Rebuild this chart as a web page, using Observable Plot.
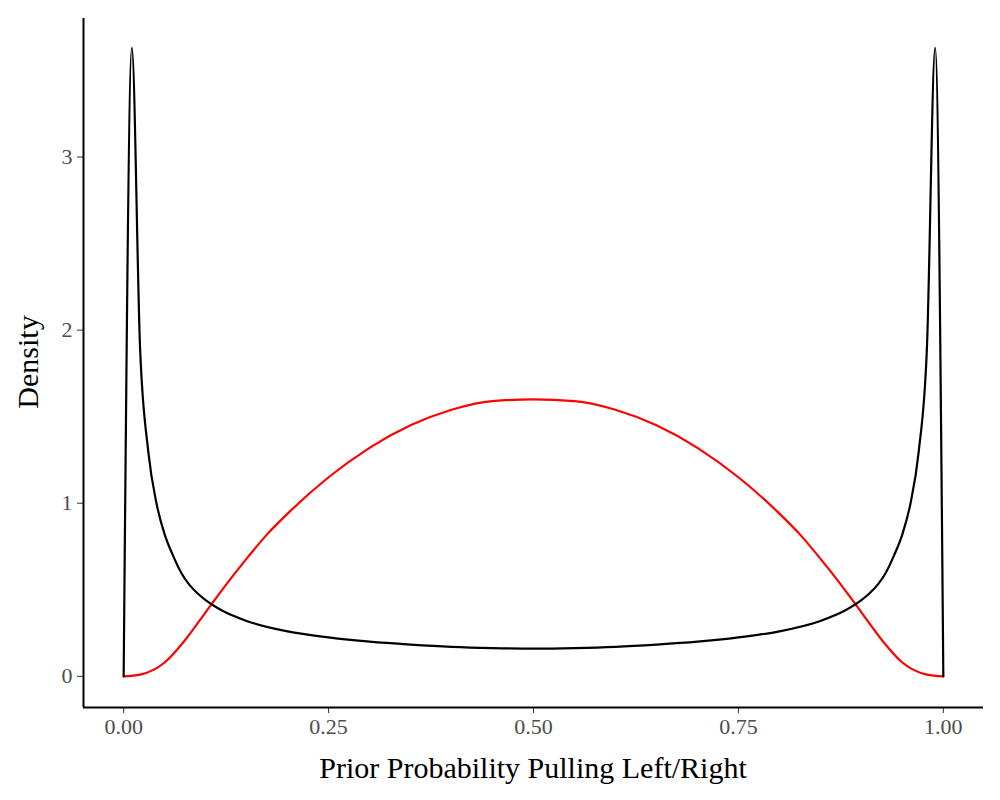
<!DOCTYPE html>
<html><head>
<script src="https://cdn.jsdelivr.net/npm/d3@7"></script>
<script src="https://cdn.jsdelivr.net/npm/@observablehq/plot@0.6"></script>
<style>body{margin:0;background:#fff}</style>
</head><body>
<div id="chart"></div>
<script>
// black curve
const blackX = [0,0.01,0.02,0.03,0.04,0.05,0.06,0.07,0.08,0.09,0.10,0.12,0.15,0.20,0.25,0.30,0.35,0.40,0.45,0.50,
  0.55,0.60,0.65,0.70,0.75,0.80,0.85,0.88,0.90,0.91,0.92,0.93,0.94,0.95,0.96,0.97,0.98,0.99,1.00]
const blackY = [0,3.63,1.9,1.3,1.0,0.82,0.7,0.6,0.53,0.48,0.44,0.38,0.32,0.26,0.225,0.2,0.183,0.17,0.163,0.16,
  0.163,0.17,0.183,0.2,0.225,0.26,0.32,0.38,0.44,0.48,0.53,0.6,0.7,0.82,1.0,1.3,1.9,3.63,0]
// red curve
const redX = [0,0.02,0.05,0.075,0.1,0.125,0.15,0.175,0.2,0.25,0.3,0.35,0.4,0.45,0.5,
  0.55,0.6,0.65,0.7,0.75,0.8,0.825,0.85,0.875,0.9,0.925,0.95,0.98,1]
const redY = [0,0.01,0.08,0.21,0.37,0.53,0.68,0.82,0.94,1.15,1.32,1.45,1.54,1.59,1.6,
  1.59,1.54,1.45,1.32,1.15,0.94,0.82,0.68,0.53,0.37,0.21,0.08,0.01,0]

const black = blackX.map((x,i)=>({x, y: blackY[i]}))
const red = redX.map((x,i)=>({x, y: redY[i]}))

const chart = Plot.plot({
  width: 1000, height: 800,
  marginLeft: 83, marginRight: 17, marginTop: 18, marginBottom: 93,
  style: {fontFamily: "Liberation Serif, serif", fontSize: "22px", color: "#4d4d4d", background: "#fff"},
  x: {domain: [-0.049, 1.049], label: null},
  y: {domain: [-0.18, 3.8], label: null},
  marks: [
    Plot.axisX({ticks: [0,0.25,0.5,0.75,1], tickFormat: d3.format(".2f"), tickSize: 6, tickPadding: 5, stroke: "#333", fontSize: 22, label: null}),
    Plot.axisY({ticks: [0,1,2,3], tickFormat: d3.format("d"), tickSize: 6, tickPadding: 5, stroke: "#333", fontSize: 22, label: null}),
    Plot.ruleX([-0.049], {stroke: "black", strokeWidth: 2}),
    Plot.ruleY([-0.18], {stroke: "black", strokeWidth: 2}),
    Plot.line(red, {x: "x", y: "y", stroke: "red", strokeWidth: 2.2, curve: "monotone-x"}),
    Plot.line(black, {x: "x", y: "y", stroke: "black", strokeWidth: 2.2, curve: "monotone-x"})
  ]
})
const svg = d3.select(chart)
svg.append("text").attr("x", 533).attr("y", 778).attr("text-anchor", "middle")
  .attr("font-size", 30).attr("fill", "black").text("Prior Probability Pulling Left/Right")
svg.append("text").attr("transform", "translate(38,362) rotate(-90)").attr("text-anchor", "middle")
  .attr("font-size", 30).attr("fill", "black").text("Density")
document.getElementById("chart").append(chart)
</script>
</body></html>
